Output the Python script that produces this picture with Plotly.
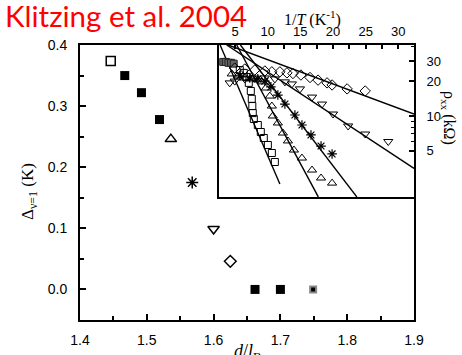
import plotly.graph_objects as go

W, H = 462, 355

# ---------------- main panel data: gap vs d/l_B ----------------
open_sq_d = [1.446]
open_sq_gap = [0.374]
filled_sq_d = [1.467, 1.492, 1.519, 1.662, 1.700]
filled_sq_gap = [0.350, 0.322, 0.278, 0.0, 0.0]
tri_up_d = [1.536]
tri_up_gap = [0.246]
aster_d = [1.568]
aster_gap = [0.175]
tri_dn_d = [1.600]
tri_dn_gap = [0.099]
diam_d = [1.625]
diam_gap = [0.046]
grey_sq_d = [1.749]
grey_sq_gap = [0.0]

x_ticks = [1.4, 1.5, 1.6, 1.7, 1.8, 1.9]
y_ticks = [0.0, 0.1, 0.2, 0.3, 0.4]

# ---------------- inset data: rho_xx vs 1/T ----------------
sqE_x = [5.73, 6.34, 6.80, 7.11, 7.42, 7.57, 7.65, 7.72, 7.88, 8.49, 8.95, 9.41, 10.03, 10.64, 11.10]
sqE_y = [25.1, 23.7, 21.8, 19.4, 16.5, 14.1, 12.2, 10.6, 9.42, 8.35, 7.26, 6.44, 5.60, 4.77, 3.98]

triD_x = [4.50, 5.42, 6.49, 7.57, 8.49, 9.10, 9.72, 10.33, 10.64, 10.79, 11.56, 12.33, 13.10, 14.02, 15.25, 16.79, 18.17, 19.86]
triD_y = [23.2, 22.3, 21.4, 21.0, 20.6, 19.8, 17.5, 14.9, 12.2, 10.0, 8.69, 7.11, 6.07, 5.06, 4.31, 3.39, 2.89, 2.61]

astC_x = [5.73, 7.26, 8.49, 9.57, 10.49, 11.56, 12.64, 14.17, 15.25, 16.63, 18.17, 19.86]
astC_y = [22.3, 21.4, 21.0, 20.1, 17.9, 15.2, 12.7, 10.2, 8.35, 6.84, 5.48, 4.68]

tdnB_x = [4.19, 4.96, 6.49, 8.03, 9.57, 11.10, 12.64, 13.71, 14.94, 16.79, 18.32, 20.01, 22.32, 24.93, 28.46]
tdnB_y = [19.4, 20.1, 21.0, 21.4, 21.4, 21.0, 19.8, 19.0, 17.2, 14.6, 12.7, 10.4, 8.19, 6.97, 6.00]

diaA_x = [4.96, 6.49, 8.03, 9.57, 10.64, 11.87, 12.95, 13.87, 15.09, 16.48, 17.71, 19.09, 19.86, 22.16, 24.93]
diaA_y = [26.1, 25.6, 25.1, 24.6, 24.2, 24.2, 23.7, 23.4, 22.7, 21.6, 20.5, 19.4, 18.6, 17.2, 16.5]

flat_x = [3.2, 3.6, 4.0, 4.4, 4.8]
flat_y = [29.5, 29.5, 29.0, 29.0, 28.5]

# fitted Arrhenius lines (end points)
fitA_x = [3.97, 32.4]
fitA_y = [41.4, 10.4]
fitB_x = [3.73, 32.4]
fitB_y = [41.4, 3.50]
fitC_x = [5.83, 23.65]
fitC_y = [41.4, 1.98]
fitD_x = [5.26, 17.75]
fitD_y = [41.4, 1.98]
fitE_x = [2.72, 11.87]
fitE_y = [41.4, 2.56]

inset_x_ticks = [5, 10, 15, 20, 25, 30]
inset_y_ticks = [5, 10, 20, 30]

fig = go.Figure()

def mk(x, y, symbol, size, color='black', lc='black', lw=1.5, xa='x', ya='y'):
    fig.add_trace(go.Scatter(x=x, y=y, mode='markers', xaxis=xa, yaxis=ya,
                             marker=dict(symbol=symbol, size=size, color=color,
                                         line=dict(color=lc, width=lw)),
                             showlegend=False, hoverinfo='skip'))

# main panel
mk(open_sq_d, open_sq_gap, 'square-open', 9)
mk(filled_sq_d, filled_sq_gap, 'square', 9, lw=0)
mk(tri_up_d, tri_up_gap, 'triangle-up-open', 10)
mk(aster_d, aster_gap, 'asterisk-open', 10)
mk(tri_dn_d, tri_dn_gap, 'triangle-down-open', 10)
mk(diam_d, diam_gap, 'diamond-open', 9)
mk(grey_sq_d, grey_sq_gap, 'square', 6, color='black', lc='#888888', lw=2)

# inset lines
for fx, fy in [(fitA_x, fitA_y), (fitB_x, fitB_y), (fitC_x, fitC_y), (fitD_x, fitD_y), (fitE_x, fitE_y)]:
    fig.add_trace(go.Scatter(x=fx, y=fy, mode='lines', xaxis='x2', yaxis='y2',
                             line=dict(color='black', width=1.4),
                             showlegend=False, hoverinfo='skip'))

# inset markers
mk(flat_x, flat_y, 'square', 7, color='#666666', lc='#222222', lw=1, xa='x2', ya='y2')
mk(sqE_x, sqE_y, 'square-open', 7, lc='#444444', lw=1, xa='x2', ya='y2')
mk(triD_x, triD_y, 'triangle-up-open', 8, lc='#222222', lw=1, xa='x2', ya='y2')
mk(astC_x, astC_y, 'asterisk-open', 8, lc='#222222', lw=1.2, xa='x2', ya='y2')
mk(tdnB_x, tdnB_y, 'triangle-down-open', 8, lc='#333333', lw=1, xa='x2', ya='y2')
mk(diaA_x, diaA_y, 'diamond-open', 8, lc='#222222', lw=1, xa='x2', ya='y2')

tickfont = dict(family='Liberation Sans', size=14, color='black')
insfont = dict(family='Liberation Sans', size=13, color='black')

fig.update_layout(
    width=W, height=H,
    margin=dict(l=0, r=0, t=0, b=0, pad=0, autoexpand=False),
    paper_bgcolor='white', plot_bgcolor='white',
    xaxis=dict(domain=[80 / W, 414 / W], range=[1.4, 1.9], anchor='y', automargin=False,
               tickmode='array', tickvals=x_ticks, tickformat='.1f',
               ticks='inside', ticklen=6, tickwidth=1.5, tickcolor='black',
               minor=dict(dtick=0.05, tick0=1.4, ticks='inside', ticklen=4, tickwidth=1.5, tickcolor='black'),
               showline=True, linewidth=2, linecolor='black', mirror=True,
               showgrid=False, zeroline=False, tickfont=tickfont, ticklabelstandoff=6),
    yaxis=dict(domain=[1 - 320 / H, 1 - 45 / H], range=[-0.05, 0.4], anchor='x', automargin=False,
               tickmode='array', tickvals=y_ticks, tickformat='.1f',
               ticks='inside', ticklen=6, tickwidth=1.5, tickcolor='black',
               minor=dict(dtick=0.05, tick0=0, ticks='inside', ticklen=4, tickwidth=1.5, tickcolor='black'),
               showline=True, linewidth=2, linecolor='black', mirror=True,
               showgrid=False, zeroline=False, tickfont=tickfont, ticklabelstandoff=8),
    xaxis2=dict(domain=[219 / W, 414 / W], range=[2.55, 32.4], anchor='y2', side='top', automargin=False,
                tickmode='array', tickvals=inset_x_ticks,
                ticks='inside', ticklen=4, tickwidth=1.5, tickcolor='black',
                minor=dict(dtick=2.5, tick0=0, ticks='inside', ticklen=4, tickwidth=1.5, tickcolor='black'),
                showline=True, linewidth=2, linecolor='black', mirror=True,
                showgrid=False, zeroline=False, tickfont=insfont, ticklabelstandoff=2),
    yaxis2=dict(domain=[1 - 197 / H, 1 - 45 / H], type='log', range=[0.296, 1.617], anchor='x2', side='right',
                automargin=False,
                tickmode='array', tickvals=inset_y_ticks, ticktext=[str(v) for v in inset_y_ticks],
                ticks='inside', ticklen=5, tickwidth=1.5, tickcolor='black',
                minor=dict(tickmode='array', tickvals=[6, 7, 8, 9, 40], ticks='inside', ticklen=3,
                           tickwidth=1.2, tickcolor='black'),
                showline=True, linewidth=2, linecolor='black', mirror=True,
                showgrid=False, zeroline=False, tickfont=insfont, ticklabelstandoff=8),
)

serif = 'Liberation Serif'
fig.add_annotation(text='Klitzing et al. 2004', x=3 / W, y=1 + 4 / H, xref='paper', yref='paper',
                   xanchor='left', yanchor='top', showarrow=False,
                   font=dict(family='Lato', size=29.5, color='#ff0000'))
fig.add_annotation(text='Δ<sub>ν=1</sub> (K)', x=29 / W, y=1 - 192 / H, xref='paper', yref='paper',
                   textangle=-90, showarrow=False, xanchor='center', yanchor='middle',
                   font=dict(family=serif, size=17, color='black'))
fig.add_annotation(text='<i>d</i>/<i>l</i><sub>B</sub>', x=247 / W, y=1 - 339 / H, xref='paper', yref='paper',
                   showarrow=False, xanchor='center', yanchor='top',
                   font=dict(family=serif, size=18, color='black'))
fig.add_annotation(text='1/<i>T</i> (K<sup>-1</sup>)', x=312 / W, y=1 - 18 / H, xref='paper', yref='paper',
                   showarrow=False, xanchor='center', yanchor='middle',
                   font=dict(family=serif, size=16, color='black'))
fig.add_annotation(text='ρ<sub>xx</sub> (kΩ)', x=449 / W, y=1 - 118 / H, xref='paper', yref='paper',
                   textangle=90, showarrow=False, xanchor='center', yanchor='middle',
                   font=dict(family=serif, size=16, color='black'))

fig.write_html('out.html', config={'displayModeBar': False},
               post_script="document.body.style.margin='0';document.body.style.padding='0';")
